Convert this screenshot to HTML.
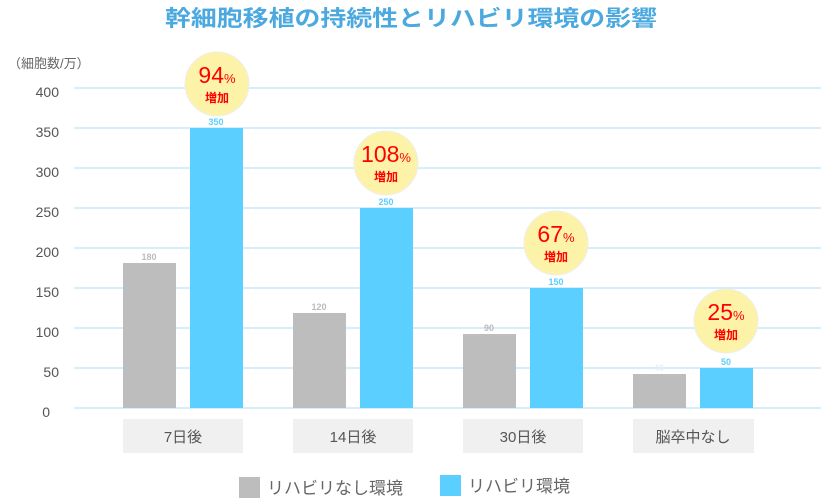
<!DOCTYPE html>
<html><head><meta charset="utf-8"><style>
body{margin:0;background:#fff;}
svg{display:block;font-family:"Liberation Sans","Noto Sans CJK JP",sans-serif;}
</style></head><body>
<svg width="821" height="499" viewBox="0 0 821 499">
<text x="411" y="26" text-anchor="middle" font-size="22" font-weight="bold" fill="#4ba9e0" textLength="492" lengthAdjust="spacingAndGlyphs">幹細胞移植の持続性とリハビリ環境の影響</text>
<text x="8" y="68" font-size="13" fill="#666">（細胞数/万）</text>
<g stroke="#c5e9fb" stroke-width="1.5">
<line x1="74" x2="821" y1="88" y2="88"/><line x1="74" x2="821" y1="128" y2="128"/>
<line x1="74" x2="821" y1="168" y2="168"/><line x1="74" x2="821" y1="208" y2="208"/>
<line x1="74" x2="821" y1="248" y2="248"/><line x1="74" x2="821" y1="288" y2="288"/>
<line x1="74" x2="821" y1="328" y2="328"/><line x1="74" x2="821" y1="368" y2="368"/>
<line x1="74" x2="821" y1="408" y2="408"/>
</g>
<g font-size="14" fill="#555" text-anchor="end">
<text x="59" y="97">400</text><text x="59" y="137">350</text><text x="59" y="177">300</text>
<text x="59" y="217">250</text><text x="59" y="257">200</text><text x="59" y="297">150</text>
<text x="59" y="337">100</text><text x="59" y="377">50</text><text x="50" y="417">0</text>
</g>
<g fill="#bdbdbd">
<rect x="123" y="263" width="53" height="145"/><rect x="293" y="313" width="53" height="95"/>
<rect x="463" y="334" width="53" height="74"/><rect x="633" y="374" width="53" height="34"/>
</g>
<g fill="#5bcfff">
<rect x="190" y="128" width="53" height="280"/><rect x="360" y="208" width="53" height="200"/>
<rect x="530" y="288" width="53" height="120"/><rect x="700" y="368" width="53" height="40"/>
</g>
<g font-size="9" font-weight="bold" text-anchor="middle">
<text x="149" y="260" fill="#bbb">180</text><text x="319" y="310" fill="#bbb">120</text>
<text x="489" y="331" fill="#bbb">90</text><text x="659" y="371" fill="#eee">40</text>
<text x="216" y="125" fill="#5bcfff">350</text><text x="386" y="205" fill="#5bcfff">250</text>
<text x="556" y="285" fill="#5bcfff">150</text><text x="726" y="365" fill="#5bcfff">50</text>
</g>
<g fill="#f0f0f0">
<rect x="123" y="419" width="120" height="34"/><rect x="293" y="419" width="120" height="34"/>
<rect x="463" y="419" width="120" height="34"/><rect x="633" y="419" width="121" height="34"/>
</g>
<g font-size="15" fill="#555" text-anchor="middle">
<text x="183" y="442">7日後</text><text x="353" y="442">14日後</text>
<text x="523" y="442">30日後</text><text x="693" y="442">脳卒中なし</text>
</g>
<g fill="#fdf3a8" stroke="#eee" stroke-width="1">
<circle cx="217" cy="84" r="32"/><circle cx="386" cy="163" r="32"/>
<circle cx="556" cy="243" r="32"/><circle cx="726" cy="321" r="32"/>
</g>
<g fill="#f00" text-anchor="middle">
<text x="217" y="83" font-size="23">94<tspan font-size="13">%</tspan></text><text x="217" y="102" font-size="12" font-weight="bold">増加</text>
<text x="386" y="162" font-size="23">108<tspan font-size="13">%</tspan></text><text x="386" y="181" font-size="12" font-weight="bold">増加</text>
<text x="556" y="242" font-size="23">67<tspan font-size="13">%</tspan></text><text x="556" y="261" font-size="12" font-weight="bold">増加</text>
<text x="726" y="320" font-size="23">25<tspan font-size="13">%</tspan></text><text x="726" y="339" font-size="12" font-weight="bold">増加</text>
</g>
<rect x="239" y="477" width="21" height="21" fill="#bdbdbd"/>
<text x="267" y="494" font-size="17" fill="#666">リハビリなし環境</text>
<rect x="440" y="475" width="21" height="21" fill="#5bcfff"/>
<text x="468" y="492" font-size="17" fill="#666">リハビリ環境</text>
</svg>
</body></html>
